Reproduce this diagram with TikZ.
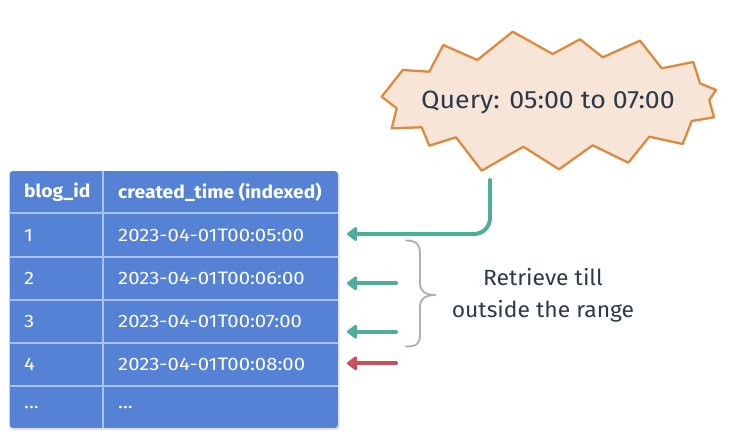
\documentclass[tikz,border=0pt]{standalone}
\usepackage{fontspec}
\setmainfont{Fira Sans}
\newfontfamily\tblfont[FakeStretch=1.13, BoldFeatures={FakeStretch=1.07}]{Fira Sans}
\newfontfamily\qfont[FakeStretch=1.07]{Fira Sans}
\newfontfamily\lblfont[FakeStretch=1.04]{Fira Sans}
\usetikzlibrary{arrows.meta}
\definecolor{tblfill}{HTML}{5682D6}
\definecolor{tblline}{HTML}{A8C2EE}
\definecolor{grn}{HTML}{4FAE9A}
\definecolor{rd}{HTML}{C84F5B}
\definecolor{brc}{HTML}{A9AFBA}
\definecolor{starfill}{HTML}{F7E6D8}
\definecolor{starline}{HTML}{DD8A3E}
\definecolor{ink}{HTML}{2B3A4A}
\tikzset{
  cell/.style={anchor=west, text=white, font=\tblfont\fontsize{18}{20}\selectfont, inner sep=0pt},
  hcell/.style={cell, font=\tblfont\fontsize{18}{20}\selectfont\bfseries},
  gridline/.style={draw=tblline, line width=2pt},
  ptr/.style={line width=4pt, -{Triangle[length=11pt,width=16pt,round]}},
  gptr/.style={ptr, draw=grn, color=grn},
  rptr/.style={ptr, draw=rd, color=rd},
}
\begin{document}
\begin{tikzpicture}[x=1pt,y=-1pt]
\useasboundingbox (0,0) rectangle (733,444);
% table
\fill[black!12, rounded corners=3pt] (10.5,172.5) rectangle (339.5,430);
\node[draw=none, fill=tblfill, rounded corners=3pt, minimum width=328.4pt, minimum height=256.7pt, inner sep=0pt, anchor=north west] (tbl) at (9.3,171) {};
\draw[gridline] (103.3,171) -- (103.3,427.7);
\foreach \yy in {212.7,256.7,300,342.7,385.7}{\draw[gridline] (9.3,\yy) -- (337.7,\yy);}
\node[hcell] (h1) at (24,192) {blog\_id};
\node[hcell] (h2) at (118,192) {created\_time (indexed)};
\node[cell] (r1a) at (24,235) {1};
\node[cell] (r1b) at (118,235) {2023-04-01T00:05:00};
\node[cell] (r2a) at (24,278.5) {2};
\node[cell] (r2b) at (118,278.5) {2023-04-01T00:06:00};
\node[cell] (r3a) at (24,321.5) {3};
\node[cell] (r3b) at (118,321.5) {2023-04-01T00:07:00};
\node[cell] (r4a) at (24,364) {4};
\node[cell] (r4b) at (118,364) {2023-04-01T00:08:00};
\node[cell] (r5a) at (24,407) {...};
\node[cell] (r5b) at (118,407) {...};
% star
\draw[fill=starfill, draw=starline, line width=2.3pt, line join=round]
 (381.7,96.7) -- (402.7,70) -- (429.3,71.7) -- (443.3,45) -- (477.3,60) -- (512.7,31.7)
 -- (552.7,54) -- (580,39.3) -- (602.7,57.3) -- (640,40.7) -- (661.7,68.3) -- (693.3,62)
 -- (700,83.3) -- (716,90) -- (709.3,100) -- (714,117.3) -- (691.7,121) -- (682.7,144)
 -- (649.3,136.7) -- (628.3,162.7) -- (592.7,145.3) -- (559,169.3) -- (523.3,146.7)
 -- (481.7,170.7) -- (456,137.3) -- (429.3,145.7) -- (421.7,127.3) -- (391.7,128.3)
 -- (396.7,108.3) -- cycle;
\node[text=ink, font=\qfont\fontsize{25}{28}\selectfont] (q) at (548,102) {Query: 05:00 to 07:00};
% arrows
\coordinate (qs) at (490,180);
\coordinate (t1) at (347,234);
\coordinate (s2) at (396,283.3); \coordinate (t2) at (347,283.3);
\coordinate (s3) at (396,331.7); \coordinate (t3) at (347,331.7);
\coordinate (s4) at (396,363.3); \coordinate (t4) at (347,363.3);
\draw[gptr, rounded corners=16pt, line cap=round] (qs) |- (t1);
\draw[gptr, line cap=round] (s2) -- (t2);
\draw[gptr, line cap=round] (s3) -- (t3);
\draw[rptr, line cap=round] (s4) -- (t4);
% brace
\draw[brc, line width=1.8pt, line cap=round]
 (406,240.5) .. controls (416,240.5) and (420,244) .. (420,254)
 -- (420,283) .. controls (420,292) and (426,295) .. (436,295)
 .. controls (426,295) and (420,298) .. (420,307)
 -- (420,335) .. controls (420,344) and (416,346.5) .. (406,346.5);
\node[text=ink, font=\lblfont\fontsize{22}{32}\selectfont, align=center] (lbl) at (543,295) {Retrieve till\\outside the range};
\end{tikzpicture}
\end{document}
